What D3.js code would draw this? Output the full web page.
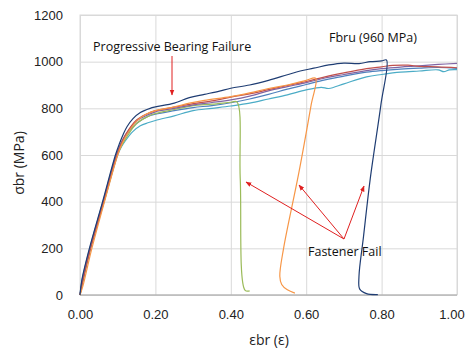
<!DOCTYPE html>
<html>
<head>
<meta charset="utf-8">
<script src="https://cdn.jsdelivr.net/npm/d3@7"></script>
<style>
  body { margin: 0; background: #fff; }
  svg { font-family: "Open Sans", sans-serif; }
  .grid line { stroke: #d9d9d9; stroke-width: 1; }
  .grid path { display: none; }
  .tick text { fill: #222; font-size: 13px; }
  .series { fill: none; stroke-width: 1.2; stroke-linejoin: round; }
  .note { font-size: 12.5px; fill: #111; }
  .aText { font-size: 14px; fill: #222; }
</style>
</head>
<body>
<div id="chart"></div>
<script>
// strain / stress curves [εbr, σbr]
var navy = [[0,0],[0.005,65],[0.025,200],[0.06,400],[0.094,600],[0.105,650],[0.115,690],[0.125,722],[0.14,755],[0.16,782],[0.186,800],[0.2,806],[0.25,822],[0.29,846],[0.33,860],[0.37,874],[0.4,886],[0.45,900],[0.5,920],[0.55,944],[0.584,960],[0.62,972],[0.66,986],[0.7,994],[0.74,992],[0.77,1000],[0.8,1003],[0.813,1007],[0.798,814],[0.77,500],[0.752,250],[0.74,80],[0.742,25],[0.76,6],[0.79,2]]
var orange = [[0,0],[0.008,40],[0.03,190],[0.065,400],[0.1,600],[0.112,650],[0.125,690],[0.15,745],[0.175,775],[0.2,790],[0.25,806],[0.29,822],[0.33,834],[0.4,850],[0.45,866],[0.5,885],[0.55,900],[0.6,920],[0.625,929],[0.613,814],[0.58,520],[0.54,200],[0.53,80],[0.535,45],[0.55,22],[0.57,8]]
var green = [[0,0],[0.007,50],[0.028,200],[0.064,400],[0.099,600],[0.112,645],[0.125,680],[0.15,735],[0.18,765],[0.2,778],[0.25,795],[0.3,812],[0.35,818],[0.4,826],[0.416,828],[0.425,500],[0.438,20],[0.45,18]]
var purple = [[0,0],[0.006,55],[0.027,200],[0.062,400],[0.097,600],[0.108,648],[0.12,685],[0.15,745],[0.18,772],[0.2,785],[0.25,800],[0.3,815],[0.35,825],[0.4,836],[0.45,852],[0.5,875],[0.55,893],[0.6,910],[0.65,930],[0.7,945],[0.76,962],[0.8,970],[0.85,977],[0.9,982],[0.95,988],[1.0,993]]
var red = [[0,0],[0.006,50],[0.028,200],[0.063,400],[0.098,600],[0.11,650],[0.122,690],[0.15,750],[0.18,778],[0.2,790],[0.25,805],[0.3,820],[0.35,832],[0.4,848],[0.45,862],[0.5,880],[0.55,898],[0.6,915],[0.65,935],[0.7,952],[0.76,970],[0.8,978],[0.83,984],[0.87,985],[0.9,980],[0.95,978],[1.0,974]]
var blue = [[0,0],[0.005,60],[0.026,200],[0.061,400],[0.096,600],[0.108,645],[0.12,680],[0.15,735],[0.18,765],[0.2,775],[0.25,790],[0.3,803],[0.35,812],[0.4,824],[0.45,840],[0.5,860],[0.55,882],[0.6,902],[0.65,922],[0.7,938],[0.76,955],[0.8,962],[0.85,968],[0.9,972],[0.95,975],[1.0,971]]
var cyan = [[0,0],[0.006,50],[0.028,200],[0.064,400],[0.1,600],[0.11,635],[0.12,660],[0.14,700],[0.16,725],[0.18,738],[0.2,748],[0.25,768],[0.3,790],[0.35,800],[0.4,810],[0.45,822],[0.5,840],[0.55,858],[0.6,879],[0.64,890],[0.66,885],[0.7,905],[0.76,935],[0.8,945],[0.85,955],[0.9,960],[0.95,965],[0.965,957],[0.98,965],[1.0,966]]

var xTicks = [0, 0.2, 0.4, 0.6, 0.8, 1.0]
var yTicks = [0, 200, 400, 600, 800, 1000, 1200]

var svgWidth = 468
var svgHeight = 349
var margin = { top: 15, right: 11, bottom: 54, left: 80 }
var width = svgWidth - margin.left - margin.right
var height = svgHeight - margin.top - margin.bottom

var svg = d3.select("#chart").append("svg")
  .attr("width", svgWidth)
  .attr("height", svgHeight)

var chartGroup = svg.append("g")
  .attr("transform", `translate(${margin.left}, ${margin.top})`)

var xScale = d3.scaleLinear().domain([0, 1]).range([0, width])
var yScale = d3.scaleLinear().domain([0, 1200]).range([height, 0])

// grid + tick labels
chartGroup.append("g")
  .attr("class", "grid")
  .call(d3.axisLeft(yScale).tickValues(yTicks).tickSize(-width).tickPadding(17).tickFormat(d3.format("d")))

var xAxis = chartGroup.append("g")
  .attr("class", "grid")
  .attr("transform", `translate(0, ${height})`)
  .call(d3.axisBottom(xScale).tickValues(xTicks).tickSize(-height).tickPadding(15).tickFormat(d3.format(".2f")))

// last label would run off the page
xAxis.selectAll(".tick text").filter(d => d === 1).attr("text-anchor", "end").attr("dx", "0.55em")

// frame
chartGroup.append("rect")
  .attr("width", width).attr("height", height)
  .attr("fill", "none").attr("stroke", "#d9d9d9")
chartGroup.append("line")
  .attr("x1", 0).attr("x2", width).attr("y1", height).attr("y2", height)
  .attr("stroke", "#a6a6a6")

var line = d3.line()
  .x(d => xScale(d[0]))
  .y(d => yScale(d[1]))
  .curve(d3.curveCatmullRom.alpha(0.5))

var series = [
  { data: cyan, color: "#4BACC6" },
  { data: blue, color: "#4F81BD" },
  { data: green, color: "#9BBB59" },
  { data: purple, color: "#8064A2" },
  { data: red, color: "#C0504D" },
  { data: orange, color: "#F79646" },
  { data: navy, color: "#1F3D73" }
]

chartGroup.selectAll(".series")
  .data(series)
  .enter()
  .append("path")
  .attr("class", "series")
  .attr("d", d => line(d.data))
  .attr("stroke", d => d.color)

// arrows
svg.append("defs").append("marker")
  .attr("id", "head")
  .attr("viewBox", "0 0 10 10")
  .attr("refX", 9).attr("refY", 5)
  .attr("markerWidth", 6).attr("markerHeight", 6)
  .attr("orient", "auto")
  .append("path").attr("d", "M0,1 L10,5 L0,9 Z").attr("fill", "#e02020")

function arrow(x1, y1, x2, y2) {
  svg.append("line")
    .attr("x1", x1).attr("y1", y1).attr("x2", x2).attr("y2", y2)
    .attr("stroke", "#e02020").attr("stroke-width", 1)
    .attr("marker-end", "url(#head)")
}
arrow(172, 56, 172, 95)
arrow(344, 239, 246, 182)
arrow(344, 239, 299, 185)
arrow(344, 239, 364, 186)

// notes
svg.append("text").attr("class", "note").attr("x", 93).attr("y", 51).text("Progressive Bearing Failure")
svg.append("text").attr("class", "note").attr("x", 329).attr("y", 42).text("Fbru (960 MPa)")
svg.append("text").attr("class", "note").attr("x", 308).attr("y", 256).text("Fastener Fail")

// axis titles
svg.append("text")
  .attr("class", "aText")
  .attr("transform", `translate(24, 163) rotate(-90)`)
  .attr("text-anchor", "middle")
  .text("σbr (MPa)")

svg.append("text")
  .attr("class", "aText")
  .attr("x", 269).attr("y", 345)
  .attr("text-anchor", "middle")
  .text("εbr (ε)")
</script>
</body>
</html>
